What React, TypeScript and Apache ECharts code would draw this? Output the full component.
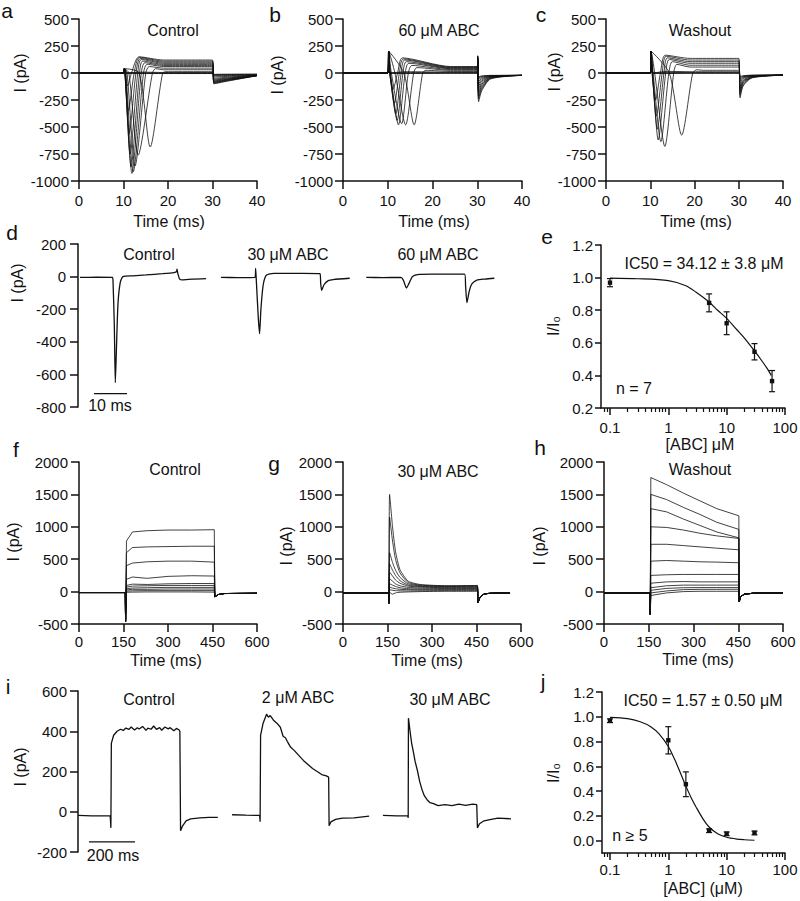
import React, { useEffect, useRef } from 'react';
import * as echarts from 'echarts';

const FONT = "'Liberation Sans', Arial, Helvetica, sans-serif";
const INK = '#111';

// ---------- panels a–c : current families (time in ms, current in pA) ----------
// row columns: naStart, naPeakT, naPeakI, naRecoverT, humpT, humpI, steadyI, tailI, tailAt31, tailAt33, tailAt40
const controlSweeps = [
  [10.3, 10.9, -120, 11.8, 13.5, 150, 120, -100, -95, -78, -25],
  [10.3, 11.1, -350, 12.4, 13.6, 145, 110, -95, -90, -74, -25],
  [10.3, 11.3, -560, 12.8, 13.8, 135, 100, -90, -85, -70, -24],
  [10.35, 11.5, -750, 13.2, 14.0, 125, 90, -85, -80, -66, -24],
  [10.4, 11.7, -870, 13.6, 14.3, 110, 80, -80, -76, -62, -23],
  [10.45, 11.9, -930, 14.0, 14.8, 95, 70, -74, -70, -58, -23],
  [10.55, 12.2, -915, 14.5, 15.3, 80, 60, -68, -64, -53, -22],
  [10.8, 12.6, -860, 15.0, 15.8, 60, 45, -60, -57, -47, -22],
  [11.2, 13.3, -760, 16.5, 17.2, 40, 30, -50, -48, -40, -21],
  [13.5, 16.0, -685, 18.8, 19.8, 12, 12, -38, -36, -32, -20],
  [0, 0, 0, 0, 14, 8, 5, -28, -27, -24, -18],
  [0, 0, 0, 0, 14, 2, 0, -22, -21, -19, -16],
  [0, 0, 0, 0, 14, -2, -3, -16, -15, -14, -13],
  [0, 0, 0, 0, 14, -5, -5, -12, -12, -11, -10],
];
const abc60Sweeps = [
  [10.4, 11.2, -150, 12.2, 13.3, 140, 60, -265, -165, -55, -22],
  [10.45, 11.5, -280, 12.6, 13.5, 130, 55, -240, -150, -50, -22],
  [10.5, 11.8, -380, 13.0, 13.8, 120, 50, -215, -135, -47, -22],
  [10.55, 12.1, -440, 13.4, 14.2, 105, 45, -190, -120, -43, -22],
  [10.6, 12.4, -480, 13.9, 14.7, 90, 40, -170, -105, -40, -22],
  [10.8, 13.1, -470, 14.6, 15.4, 70, 32, -145, -90, -36, -22],
  [11.6, 14.0, -480, 15.8, 16.5, 50, 25, -120, -75, -33, -22],
  [13.6, 15.9, -480, 17.8, 18.5, 25, 15, -100, -62, -30, -22],
  [0, 0, 0, 0, 14, 12, 8, -80, -50, -28, -22],
  [0, 0, 0, 0, 14, 4, 3, -60, -40, -25, -22],
  [0, 0, 0, 0, 14, -2, 0, -45, -32, -24, -22],
  [0, 0, 0, 0, 14, -5, -3, -35, -27, -22, -22],
];
const washSweeps = [
  [10.4, 11.2, -250, 12.3, 13.4, 165, 135, -230, -120, -45, -20],
  [10.45, 11.4, -400, 12.7, 13.6, 155, 120, -205, -108, -42, -20],
  [10.5, 11.6, -520, 13.1, 13.9, 140, 105, -180, -95, -39, -20],
  [10.55, 11.8, -620, 13.5, 14.3, 125, 90, -160, -85, -36, -20],
  [10.65, 12.4, -635, 14.2, 15.0, 105, 72, -140, -75, -33, -20],
  [11.0, 13.3, -680, 15.3, 16.0, 80, 55, -120, -65, -30, -20],
  [14.3, 17.1, -575, 19.6, 20.5, 30, 25, -90, -50, -27, -20],
  [0, 0, 0, 0, 14, 15, 12, -70, -42, -25, -20],
  [0, 0, 0, 0, 14, 5, 4, -55, -35, -23, -20],
  [0, 0, 0, 0, 14, -2, 0, -42, -30, -22, -20],
  [0, 0, 0, 0, 14, -5, -3, -32, -25, -20, -20],
];
const familyCapSpike = [40, 200, 200];
const familyEndSpike = [0, 100, 0];
const familySettleT = [19, 24, 19];

// ---------- panel d : single traces (ms, pA) ----------
const dControl = [[0, -5], [5, -4], [9.8, -5], [10.0, -25], [10.4, -300], [10.7, -650], [11.0, -470], [11.5, -170], [12.2, -35], [13, 0], [16, 5], [20, 10], [25, 18], [28.5, 25], [29.2, 30], [29.4, 45], [29.6, 22], [30.2, -15], [31, -20], [34, -15], [38.2, -12]];
const d30uM = [[0, -5], [5, -6], [10.3, -5], [10.5, 50], [10.7, -20], [11.3, -250], [11.7, -350], [12.1, -200], [12.8, -50], [13.8, 10], [16, 20], [25, 20], [30, 18], [30.2, -40], [30.5, -85], [31.2, -50], [32.5, -25], [34, -18], [39, -10]];
const d60uM = [[0, -5], [5, -6], [10.5, -5], [11.2, -20], [12.2, -70], [13, -40], [14, 0], [15.5, 12], [20, 15], [29.8, 15], [30.1, -60], [30.5, -160], [31.2, -90], [32, -45], [33.5, -22], [36, -15], [38.8, -10]];
const dScaleBarMs = 10;

// ---------- panel e : dose response ----------
const eConc = [0.1, 5, 10, 30, 60];
const eMean = [0.969, 0.845, 0.72, 0.545, 0.365];
const eErr = [0.025, 0.055, 0.07, 0.05, 0.065];
const eFitConc = [0.1, 0.3, 1, 2, 3, 5, 7, 10, 15, 20, 30, 40, 50, 58];
const eFitVal = [0.997, 0.993, 0.981, 0.95, 0.91, 0.85, 0.8, 0.75, 0.68, 0.63, 0.55, 0.49, 0.44, 0.4];

// ---------- panels f–h : K current families (ms, pA) ----------
const fTimes = [160, 180, 230, 300, 380, 456];
const fSweeps = [
  [780, 920, 940, 950, 950, 955],
  [600, 680, 690, 695, 700, 700],
  [400, 440, 460, 470, 470, 455],
  [190, 225, 205, 235, 245, 240],
  [95, 115, 110, 120, 125, 125],
  [70, 85, 90, 95, 95, 95],
  [45, 55, 60, 65, 65, 65],
  [25, 35, 35, 40, 40, 40],
  [8, 12, 15, 15, 15, 15],
  [-10, -8, -5, -5, -5, -8],
];
const fTail = [[458, -80], [470, -45], [490, -30], [600, -25]];
const gTimes = [157, 167, 177, 192, 220, 260, 350, 453];
const gSweeps = [
  [1500, 1000, 620, 340, 160, 110, 90, 95],
  [1150, 780, 500, 290, 140, 100, 85, 90],
  [600, 450, 330, 220, 120, 90, 80, 80],
  [430, 330, 250, 170, 100, 80, 70, 70],
  [300, 240, 180, 130, 85, 70, 60, 60],
  [200, 160, 120, 90, 65, 55, 50, 50],
  [120, 100, 80, 60, 45, 40, 40, 40],
  [70, 55, 45, 35, 30, 28, 30, 30],
  [30, 20, 15, 12, 10, 12, 15, 15],
  [-10, -40, -20, -10, -5, 0, 5, 5],
];
const gTail = [[455, -170], [462, -90], [475, -40], [500, -25], [563, -20]];
const hTimes = [157, 210, 266, 322, 378, 452];
const hSweeps = [
  [1760, 1650, 1520, 1400, 1280, 1170],
  [1500, 1420, 1300, 1190, 1070, 960],
  [1280, 1230, 1120, 1020, 920, 830],
  [1000, 990, 950, 900, 860, 820],
  [730, 730, 710, 690, 670, 645],
  [470, 480, 470, 460, 455, 445],
  [250, 260, 265, 265, 265, 265],
  [130, 150, 155, 150, 150, 150],
  [60, 90, 100, 100, 100, 100],
  [20, 50, 60, 62, 62, 62],
  [-20, 10, 30, 35, 35, 36],
  [-60, -20, 0, 5, 5, 5],
];
const hTail = [[453, -160], [458, -80], [470, -40], [500, -25], [600, -20]];
const kBaseline = [-15, -20, -20];
const kOnset = [157, 155, 155];
const kCapDip = [-460, -180, -350];

// ---------- panel i : single traces (ms, pA) ----------
const iControl = [[0, -18], [60, -20], [140, -20], [143, -80], [145, 340], [155, 380], [170, 400], [185, 410], [197, 404], [208, 416], [222, 409], [231, 421], [246, 406], [258, 417], [266, 411], [281, 424], [296, 404], [304, 416], [318, 410], [329, 426], [341, 409], [355, 418], [364, 405], [378, 421], [392, 412], [401, 418], [417, 403], [428, 414], [440, 406], [443, 400], [446, -95], [455, -70], [470, -45], [490, -35], [530, -30], [570, -28], [608, -28]];
const i2uM = [[0, -15], [60, -17], [120, -18], [122, -50], [124, 380], [135, 440], [150, 485], [158, 470], [166, 478], [180, 455], [195, 440], [210, 420], [222, 375], [232, 368], [240, 350], [255, 320], [270, 305], [290, 280], [310, 255], [330, 235], [350, 215], [370, 200], [390, 185], [410, 178], [420, 172], [422, -70], [430, -50], [450, -38], [480, -32], [530, -30], [596, -22]];
const i30uM = [[0, -18], [60, -20], [108, -20], [110, -30], [111, 465], [118, 400], [125, 340], [132, 300], [140, 250], [150, 205], [160, 150], [170, 110], [180, 80], [192, 60], [205, 45], [220, 40], [240, 30], [270, 35], [300, 30], [330, 38], [360, 32], [390, 38], [408, 35], [411, -80], [420, -60], [440, -45], [460, -40], [500, -32], [557, -35]];
const iScaleBarMs = 200;

// ---------- panel j : dose response ----------
const jConc = [0.1, 1, 2, 5, 10, 30];
const jMean = [0.968, 0.81, 0.455, 0.08, 0.055, 0.062];
const jErr = [0.015, 0.11, 0.1, 0.015, 0.015, 0.015];
const jFitConc = [0.1, 0.2, 0.33, 0.5, 0.7, 1, 1.3, 1.6, 2, 2.5, 3, 4, 5, 7, 10, 15, 20, 30];
const jFitVal = [0.995, 0.985, 0.96, 0.92, 0.86, 0.76, 0.65, 0.55, 0.44, 0.34, 0.27, 0.17, 0.11, 0.055, 0.027, 0.012, 0.007, 0.003];

const logMinorTicks = [0.08, 0.09, 0.2, 0.3, 0.4, 0.5, 0.6, 0.7, 0.8, 0.9, 2, 3, 4, 5, 6, 7, 8, 9, 20, 30, 40, 50, 60, 70, 80, 90];
const jYTicks = [0, 0.2, 0.4, 0.6, 0.8, 1.0, 1.2];
const E_XMIN = 0.0701;
const J_XMIN = 0.073;
const X_MAX_LOG = 100;

// ---------- layout ----------
const GRIDS = [
  { left: 79, top: 19, width: 178, height: 162 },   // a
  { left: 343, top: 19, width: 179, height: 162 },  // b
  { left: 606, top: 19, width: 177, height: 162 },  // c
  { left: 78, top: 244, width: 416, height: 163 },  // d
  { left: 601, top: 245, width: 184, height: 163 }, // e
  { left: 79, top: 462, width: 178, height: 162 },  // f
  { left: 343, top: 462, width: 178, height: 162 }, // g
  { left: 604, top: 462, width: 179, height: 162 }, // h
  { left: 78, top: 691, width: 433, height: 161 },  // i
  { left: 602, top: 692, width: 183, height: 161 }, // j
];
const D_OFFSETS = [0.6, 43.3, 87.3];
const I_OFFSETS = [0, 670, 1326];

function familySweep(row: number[], p: number): number[][] {
  const [naStart, naT, naI, recT, humpT, humpI, outI, tailI, t31, t33, t40] = row;
  const pts: number[][] = [[0, 0], [10.05, 0], [10.2, familyCapSpike[p]]];
  if (naT > 0) pts.push([naStart, 0], [naT, naI], [recT, 0]);
  else pts.push([10.5, 0]);
  pts.push([humpT, humpI], [Math.max(familySettleT[p], humpT + 1.5), outI], [30, outI]);
  if (familyEndSpike[p]) pts.push([30.1, outI + familyEndSpike[p]]);
  pts.push([30.3, tailI], [31, t31], [33, t33], [40, t40]);
  return pts;
}

function kSweep(row: number[], times: number[], tail: number[][], p: number): number[][] {
  const pts: number[][] = [[0, kBaseline[p]], [kOnset[p] - 1, kBaseline[p]], [kOnset[p], kCapDip[p]]];
  times.forEach((t, k) => pts.push([t, row[k]]));
  return pts.concat(tail);
}

const plainNum = (v: number) => String(v);

function axisBase(margin: number, tickLen: number) {
  return {
    axisLine: { show: true, onZero: false, lineStyle: { color: INK, width: 1.5 } },
    axisTick: { show: true, inside: false, length: tickLen, lineStyle: { color: INK, width: 1.5 } },
    axisLabel: { show: true, margin, color: INK, fontSize: 15, fontFamily: FONT, formatter: plainNum },
    splitLine: { show: false },
  };
}

// an extra, invisible-line axis on the same grid that only draws the short minor ticks of a log axis
function minorTickAxis(gridIndex: number, xmin: number) {
  return {
    gridIndex, type: 'value', position: 'bottom', offset: 0,
    min: Math.log10(xmin), max: Math.log10(X_MAX_LOG),
    axisLine: { show: false, onZero: false },
    axisLabel: { show: false },
    splitLine: { show: false },
    axisTick: { show: true, inside: false, length: 4, customValues: logMinorTicks.map((v) => Math.log10(v)), lineStyle: { color: INK, width: 1.2 } },
  };
}

function lineSeries(idx: number, data: number[][], width = 0.8, smooth: number | boolean = false) {
  return {
    type: 'line', xAxisIndex: idx, yAxisIndex: idx, data, showSymbol: false, symbol: 'none',
    lineStyle: { color: INK, width }, smooth, silent: true, animation: false,
  };
}

function errSeries(idx: number, conc: number[], mean: number[], err: number[]) {
  return {
    type: 'custom', xAxisIndex: idx, yAxisIndex: idx, silent: true, animation: false, clip: false,
    data: conc.map((c, k) => [c, mean[k], err[k]]),
    encode: { x: 0, y: 1 },
    renderItem: (_p: any, api: any) => {
      const x = api.value(0), m = api.value(1), e = api.value(2);
      const pm = api.coord([x, m]);
      const ph = api.coord([x, m + e]);
      const pl = api.coord([x, m - e]);
      const st = { stroke: INK, lineWidth: 1.2 };
      return {
        type: 'group', children: [
          { type: 'line', shape: { x1: pm[0], y1: ph[1], x2: pm[0], y2: pl[1] }, style: st },
          { type: 'line', shape: { x1: pm[0] - 3, y1: ph[1], x2: pm[0] + 3, y2: ph[1] }, style: st },
          { type: 'line', shape: { x1: pm[0] - 3, y1: pl[1], x2: pm[0] + 3, y2: pl[1] }, style: st },
          { type: 'rect', shape: { x: pm[0] - 2.2, y: pm[1] - 2.2, width: 4.4, height: 4.4 }, style: { fill: INK } },
        ],
      };
    },
  };
}

const txt = (text: string, x: number, y: number, size = 16, rot = 0) => ({
  type: 'text', x, y, rotation: rot, silent: true,
  style: { text, fontSize: size, fontFamily: FONT, fill: INK, align: 'center', verticalAlign: 'middle', textAlign: 'center', textVerticalAlign: 'middle' },
});

function buildOption() {
  const fmt1 = (v: number) => Number(v).toFixed(1);
  const logLbl = (v: number) => String(Number(Number(v).toPrecision(3)));
  const xAxis: any[] = [];
  const yAxis: any[] = [];
  [0, 1, 2].forEach((g) => {
    xAxis.push({ gridIndex: g, type: 'value', min: 0, max: 40, interval: 10, ...axisBase(12, 8) });
    yAxis.push({ gridIndex: g, type: 'value', min: -1000, max: 500, interval: 250, ...axisBase(10, 8) });
  });
  xAxis.push({ gridIndex: 3, type: 'value', min: 0, max: 126, show: false });
  yAxis.push({ gridIndex: 3, type: 'value', min: -800, max: 200, interval: 200, ...axisBase(12, 8) });
  const eX = axisBase(12, 7);
  xAxis.push({ gridIndex: 4, type: 'log', logBase: 10, position: 'bottom', min: E_XMIN, max: X_MAX_LOG, ...eX, axisLabel: { ...eX.axisLabel, showMinLabel: false, formatter: logLbl } });
  const eY = axisBase(8, 6);
  yAxis.push({ gridIndex: 4, type: 'value', min: 0.2, max: 1.2, interval: 0.2, ...eY, axisLabel: { ...eY.axisLabel, formatter: fmt1 } });
  [5, 6, 7].forEach((g) => {
    xAxis.push({ gridIndex: g, type: 'value', min: 0, max: 600, interval: 150, ...axisBase(10, 8) });
    yAxis.push({ gridIndex: g, type: 'value', min: -500, max: 2000, interval: 500, ...axisBase(11, 8) });
  });
  xAxis.push({ gridIndex: 8, type: 'value', min: 0, max: 1883, show: false });
  yAxis.push({ gridIndex: 8, type: 'value', min: -200, max: 600, interval: 200, ...axisBase(11, 8) });
  const jX = axisBase(9, 7);
  xAxis.push({ gridIndex: 9, type: 'log', logBase: 10, position: 'bottom', min: J_XMIN, max: X_MAX_LOG, ...jX, axisLabel: { ...jX.axisLabel, showMinLabel: false, formatter: logLbl } });
  const jY = axisBase(8, 6);
  yAxis.push({
    gridIndex: 9, type: 'value', min: -0.1, max: 1.2, ...jY,
    axisTick: { ...jY.axisTick, customValues: jYTicks },
    axisLabel: { ...jY.axisLabel, customValues: jYTicks, formatter: fmt1 },
  });
  // minor log ticks (xAxis 10 -> grid e, xAxis 11 -> grid j)
  xAxis.push(minorTickAxis(4, E_XMIN));
  xAxis.push(minorTickAxis(9, J_XMIN));

  const series: any[] = [];
  [controlSweeps, abc60Sweeps, washSweeps].forEach((rows, p) => {
    rows.forEach((r) => series.push(lineSeries(p, familySweep(r, p), 0.8, 0.25)));
  });
  [dControl, d30uM, d60uM].forEach((tr, k) => {
    series.push(lineSeries(3, tr.map(([t, v]) => [t + D_OFFSETS[k], v]), 1.3, 0.2));
  });
  series.push(lineSeries(3, [[4.85, -718], [4.85 + dScaleBarMs, -718]], 1.3));
  series.push(lineSeries(4, eFitConc.map((c, k) => [c, eFitVal[k]]), 1.2, 0.3));
  series.push(errSeries(4, eConc, eMean, eErr));
  fSweeps.forEach((r) => series.push(lineSeries(5, kSweep(r, fTimes, fTail, 0), 0.8)));
  gSweeps.forEach((r) => series.push(lineSeries(6, kSweep(r, gTimes, gTail, 1), 0.8, 0.2)));
  hSweeps.forEach((r) => series.push(lineSeries(7, kSweep(r, hTimes, hTail, 2), 0.8)));
  [iControl, i2uM, i30uM].forEach((tr, k) => {
    series.push(lineSeries(8, tr.map(([t, v]) => [t + I_OFFSETS[k], v]), 1.3));
  });
  series.push(lineSeries(8, [[47.8, -150], [47.8 + iScaleBarMs, -150]], 1.3));
  series.push(lineSeries(9, jFitConc.map((c, k) => [c, jFitVal[k]]), 1.2, 0.3));
  series.push(errSeries(9, jConc, jMean, jErr));

  const R = Math.PI / 2;
  const graphic = [
    txt('a', 7, 10, 21), txt('b', 275, 14, 21), txt('c', 541, 14, 21),
    txt('d', 12, 232, 21), txt('e', 547, 236, 21),
    txt('f', 16, 449, 21), txt('g', 274, 463, 21), txt('h', 540, 447, 21),
    txt('i', 8, 686, 21), txt('j', 543, 681, 21),
    txt('Control', 173, 30), txt('60 μM ABC', 439, 30), txt('Washout', 700, 30),
    txt('Control', 149, 254), txt('30 μM ABC', 288, 254), txt('60 μM ABC', 438, 254),
    txt('IC50 = 34.12 ± 3.8 μM', 704, 263), txt('n = 7', 634, 388),
    txt('Control', 175, 469), txt('30 μM ABC', 438, 471), txt('Washout', 700, 469),
    txt('Control', 149, 699), txt('2 μM ABC', 298, 697), txt('30 μM ABC', 450, 699),
    txt('IC50 = 1.57 ± 0.50 μM', 703, 700), txt('n ≥ 5', 630, 835),
    txt('Time (ms)', 169, 221), txt('Time (ms)', 434, 221), txt('Time (ms)', 696, 221),
    txt('Time (ms)', 166, 660), txt('Time (ms)', 427, 660), txt('Time (ms)', 698, 659),
    txt('[ABC] μM', 700, 444), txt('[ABC] (μM)', 703, 888),
    txt('I (pA)', 20, 73, 16, R), txt('I (pA)', 277, 75, 16, R), txt('I (pA)', 554, 72, 16, R),
    txt('I (pA)', 17, 283, 16, R), txt('I/I₀', 553, 326, 16, R),
    txt('I (pA)', 13, 542, 16, R), txt('I (pA)', 286, 546, 16, R), txt('I (pA)', 539, 546, 16, R),
    txt('I (pA)', 20, 767, 16, R), txt('I/I₀', 553, 773, 16, R),
    txt('10 ms', 110, 405), txt('200 ms', 113, 855),
  ];

  return {
    animation: false,
    backgroundColor: '#ffffff',
    textStyle: { fontFamily: FONT },
    grid: GRIDS.map((g) => ({ ...g, containLabel: false, outerBoundsMode: 'none' })),
    xAxis,
    yAxis,
    series,
    graphic,
  };
}

export default function App() {
  const ref = useRef<HTMLDivElement>(null);
  useEffect(() => {
    if (!ref.current) return;
    const chart = echarts.init(ref.current, null, { renderer: 'svg' });
    chart.setOption(buildOption() as any);
    return () => chart.dispose();
  }, []);
  return (
    <div
      ref={ref}
      style={{ position: 'absolute', left: 0, top: 0, width: 800, height: 901, background: '#fff' }}
    />
  );
}
